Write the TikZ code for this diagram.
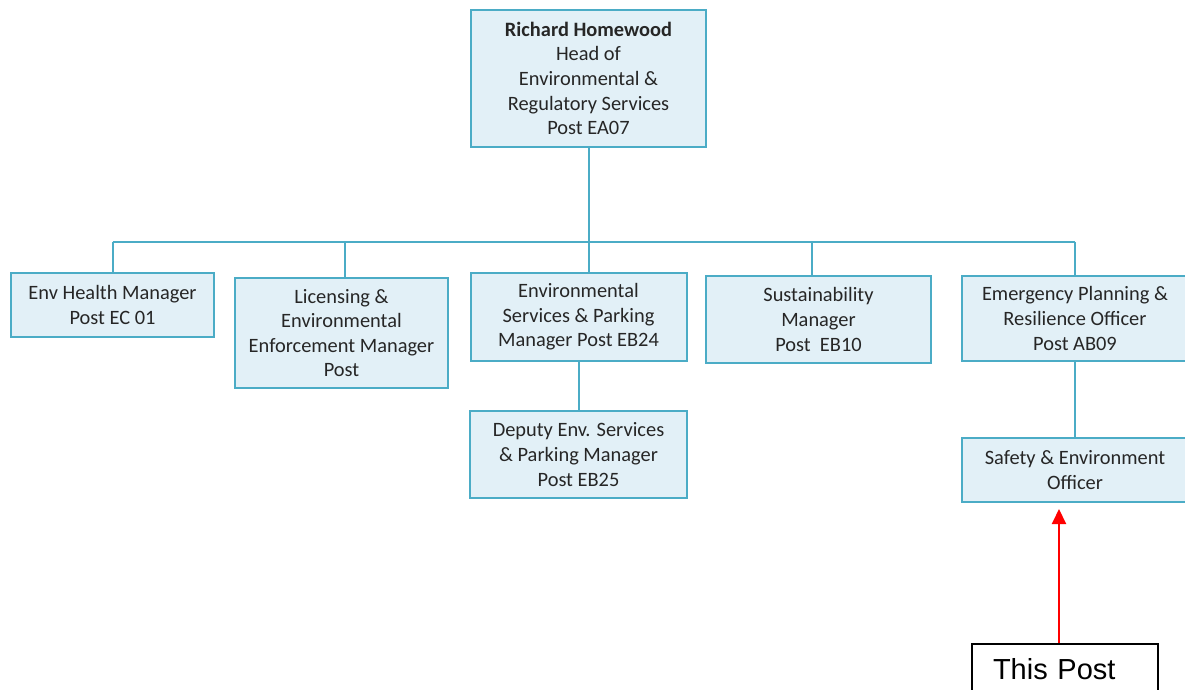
\documentclass[tikz,border=0pt]{standalone}
\usepackage{fontspec}
\setmainfont{Carlito}
\newfontfamily\arialfont{Liberation Sans}
\usetikzlibrary{arrows.meta}

\definecolor{boxline}{HTML}{4BACC6}
\definecolor{boxfill}{HTML}{E2F0F7}

\begin{document}
\begin{tikzpicture}[x=0.5pt,y=-0.5pt]
   \useasboundingbox (0,0) rectangle (1185,690);
   \clip (0,0) rectangle (1185,690);
   \tikzstyle{main}=[rectangle, draw=boxline, fill=boxfill, line width=1pt, align=center, inner sep=0pt, text=black!85, font=\fontsize{10.2}{12.3}\selectfont]
   \tikzstyle{link}=[draw=boxline, line width=1pt]
   \node[main, minimum width=117.5pt, minimum height=68.5pt] (head) at (588.5,78.5) {\textbf{Richard Homewood}\\Head of\\Environmental \&\\Regulatory Services\\Post EA07};
   \node[main, minimum width=101.5pt, minimum height=32pt] (env) at (112.5,305) {Env Health Manager\\Post EC 01};
   \node[main, minimum width=106.5pt, minimum height=55pt] (lic) at (341.5,333) {Licensing \&\\Environmental\\Enforcement Manager\\Post};
   \node[main, minimum width=108pt, minimum height=44pt] (esp) at (578.5,317) {Environmental\\Services \& Parking\\Manager Post EB24};
   \node[main, minimum width=108.5pt, minimum height=43.5pt] (dep) at (578.5,454.5) {Deputy Env. Services\\\& Parking Manager\\Post EB25};
   \node[main, minimum width=112.5pt, minimum height=43.5pt] (sus) at (818.5,319.5) {Sustainability\\Manager\\Post~~EB10};
   \node[main, minimum width=113pt, minimum height=42.5pt] (em) at (1075,318.5) {Emergency Planning \&\\Resilience Officer\\Post AB09};
   \node[main, minimum width=113pt, minimum height=32pt] (safe) at (1075,470) {Safety \& Environment\\Officer};
   \node[draw=black, fill=white, line width=1pt, anchor=north, align=left, text width=72pt, inner xsep=10.5pt, inner ysep=7pt, text height=10.5pt, text depth=14pt, font=\arialfont\fontsize{14.5}{17}\selectfont] (tp) at (1065,643) {This Post};
   \coordinate (bus) at (head.south |- 0,242);
   \draw[link] (head.south) -- (bus);
   \draw[link] (env.north |- bus) -- (em.north |- bus);
   \foreach \n/\dx in {env/0,lic/1.5,sus/-3.5,em/0}
      \draw[link] ([xshift=\dx pt]\n.north |- bus) -- ([xshift=\dx pt]\n.north);
   \draw[link] (bus) -- (bus |- esp.north);
   \draw[link] (esp) -- (dep);
   \draw[link] (em) -- (safe);
   \draw[red, line width=1pt, -{Triangle[width=7pt,length=7.5pt]}, shorten >=3pt] ([xshift=-3pt]tp.north) -- ([xshift=-3pt]tp.north |- safe.south);
\end{tikzpicture}
\end{document}
